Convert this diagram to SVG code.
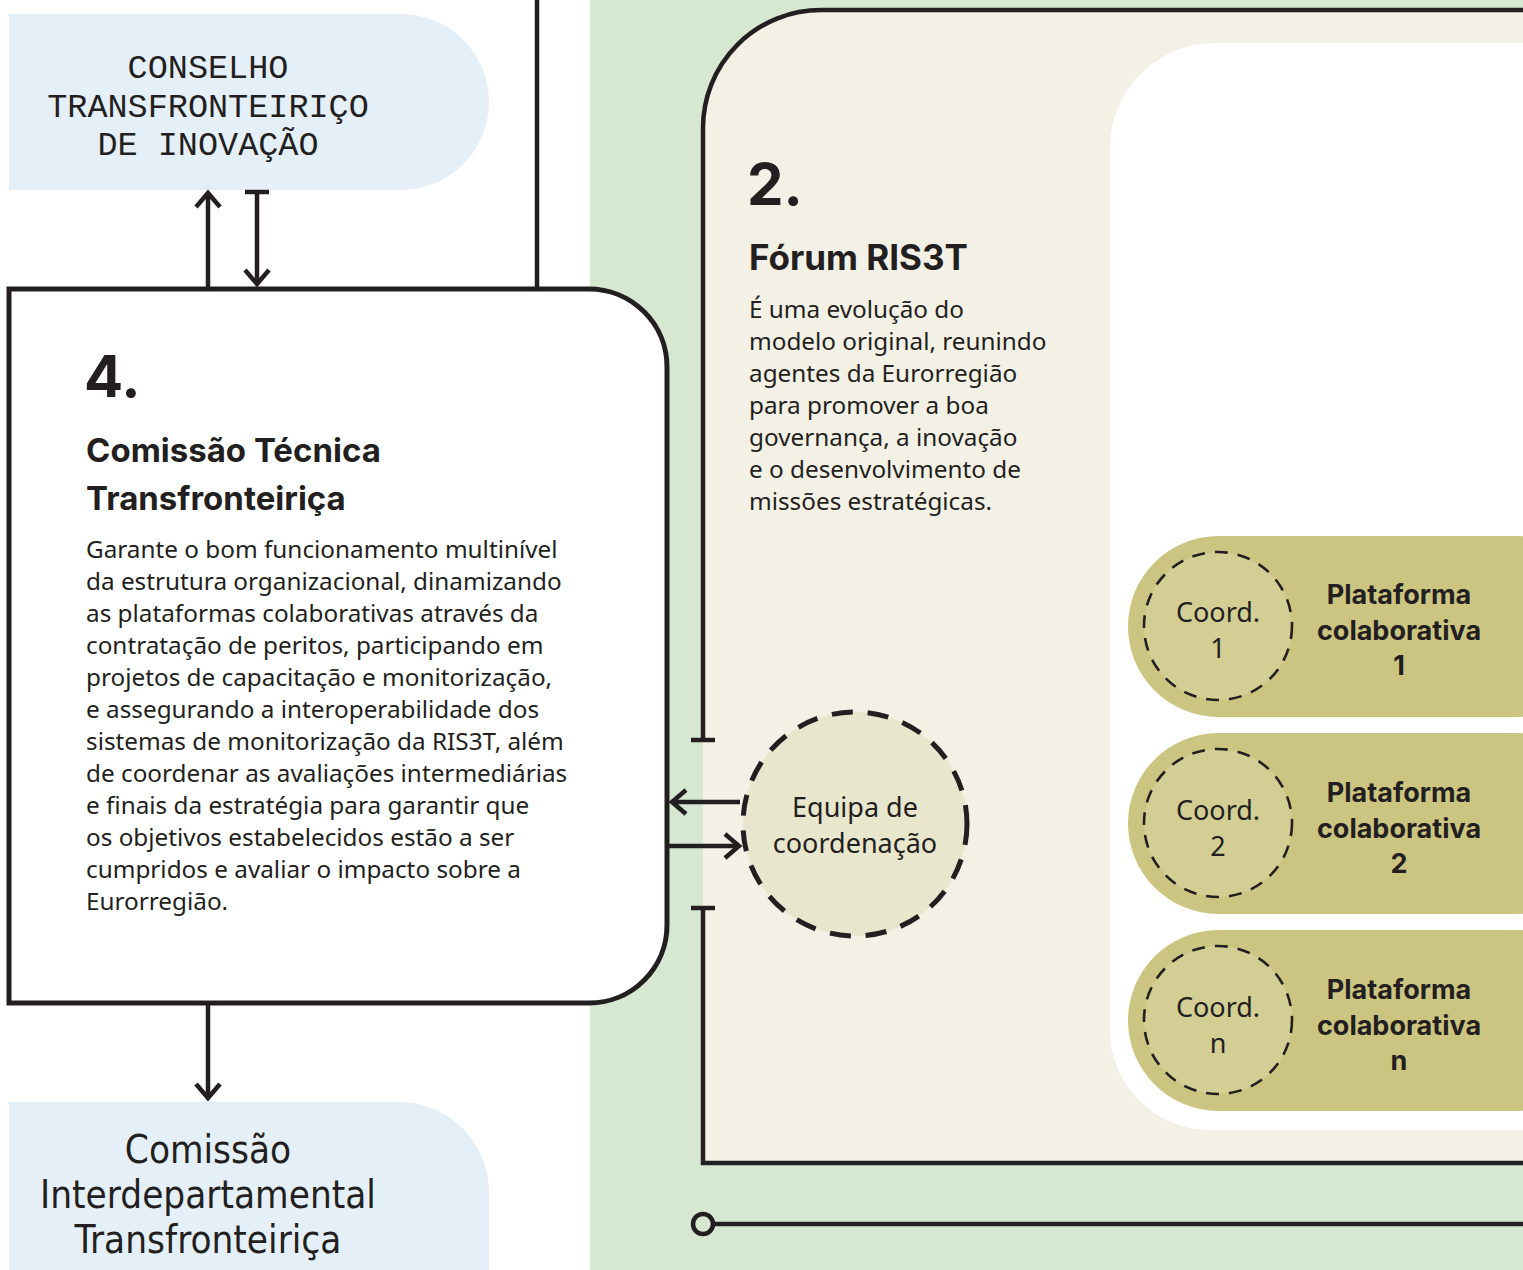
<svg xmlns="http://www.w3.org/2000/svg" width="1523" height="1270" viewBox="0 0 1523 1270">
<defs>
<style>
.ln{fill:none;stroke:#231f20;stroke-width:4.5}
.box{stroke:#231f20;stroke-width:5}
.mono{font-family:"Liberation Mono","DejaVu Sans Mono",monospace;font-size:33.5px;fill:#231f20;text-anchor:middle}
.sans{font-family:"Noto Sans","Open Sans",sans-serif;fill:#231f20}
.body{font-size:24.3px}
.head{font-family:Inter,"Noto Sans",sans-serif;font-weight:700;fill:#231f20}
.num{font-size:58px}
.ttl{font-size:33px}
.big{font-family:"DejaVu Sans",sans-serif;font-stretch:condensed;font-size:38.3px;fill:#231f20;text-anchor:middle}
.pill{fill:#ccc581}
.coord{fill:#d3ce94;stroke:#231f20;stroke-width:2.6;stroke-dasharray:13 10}
.ctext{font-family:"Noto Sans",sans-serif;font-size:27px;fill:#231f20;text-anchor:middle}
.ptext{font-family:Inter,"Noto Sans",sans-serif;font-weight:700;font-size:27px;fill:#231f20;text-anchor:middle}
</style>
<marker id="arr" viewBox="-20 -16 24 32" refX="0" refY="0" markerWidth="24" markerHeight="32" orient="auto" markerUnits="userSpaceOnUse">
<path d="M-14,-12 L0,0 L-14,12" fill="none" stroke="#231f20" stroke-width="4.5"/>
</marker>
<marker id="bar" viewBox="-4 -14 8 28" refX="0" refY="0" markerWidth="8" markerHeight="28" orient="auto" markerUnits="userSpaceOnUse">
<path d="M0,-12 L0,12" fill="none" stroke="#231f20" stroke-width="4.5"/>
</marker>
</defs>
<rect width="1523" height="1270" fill="#ffffff"/>
<rect x="590" y="0" width="933" height="1270" fill="#d7e8d2"/>

<g id="forum">
<path d="M703,128 A118,118 0 0 1 821,10 H1530 V1163 H703 Z" fill="#f3f1e5"/>
<path d="M1110,148 A105,105 0 0 1 1215,43 H1530 V1130 H1210 A100,100 0 0 1 1110,1030 Z" fill="#ffffff"/>
<path class="ln" d="M703,740 V128 A118,118 0 0 1 821,10 H1530" marker-start="url(#bar)"/>
<path class="ln" d="M703,908 V1163 H1530" marker-start="url(#bar)"/>
<text class="head num" x="747" y="205">2.</text>
<text class="head" font-size="35" x="749" y="270">Fórum RIS3T</text>
<text class="sans body" x="749">
<tspan x="749" y="318">É uma evolução do</tspan>
<tspan x="749" y="350">modelo original, reunindo</tspan>
<tspan x="749" y="382">agentes da Eurorregião</tspan>
<tspan x="749" y="414">para promover a boa</tspan>
<tspan x="749" y="446">governança, a inovação</tspan>
<tspan x="749" y="478">e o desenvolvimento de</tspan>
<tspan x="749" y="510">missões estratégicas.</tspan>
</text>
</g>

<g id="conselho">
<path d="M9,14 H401 A88,88 0 0 1 401,190 H9 Z" fill="#e5eff8"/>
<text class="mono" x="208" y="78">CONSELHO</text>
<text class="mono" x="208" y="117">TRANSFRONTEIRIÇO</text>
<text class="mono" x="208" y="155">DE INOVAÇÃO</text>
</g>

<g id="comissao-tecnica">
<path class="box" d="M9,289 H589 A78,78 0 0 1 667,367 V925 A78,78 0 0 1 589,1003 H9 Z" fill="#ffffff"/>
<text class="head num" x="84" y="397">4.</text>
<text class="head ttl" x="86" y="462">Comissão Técnica</text>
<text class="head ttl" x="86" y="510">Transfronteiriça</text>
<text class="sans body">
<tspan x="86" y="558">Garante o bom funcionamento multinível</tspan>
<tspan x="86" y="590">da estrutura organizacional, dinamizando</tspan>
<tspan x="86" y="622">as plataformas colaborativas através da</tspan>
<tspan x="86" y="654">contratação de peritos, participando em</tspan>
<tspan x="86" y="686">projetos de capacitação e monitorização,</tspan>
<tspan x="86" y="718">e assegurando a interoperabilidade dos</tspan>
<tspan x="86" y="750">sistemas de monitorização da RIS3T, além</tspan>
<tspan x="86" y="782">de coordenar as avaliações intermediárias</tspan>
<tspan x="86" y="814">e finais da estratégia para garantir que</tspan>
<tspan x="86" y="846">os objetivos estabelecidos estão a ser</tspan>
<tspan x="86" y="878">cumpridos e avaliar o impacto sobre a</tspan>
<tspan x="86" y="910">Eurorregião.</tspan>
</text>
</g>

<g id="comissao-interdepartamental">
<path d="M9,1102 H399 A90,90 0 0 1 489,1192 V1280 H9 Z" fill="#e5eff8"/>
<text class="big" x="208" y="1163">Comissão</text>
<text class="big" x="208" y="1208">Interdepartamental</text>
<text class="big" x="208" y="1253">Transfronteiriça</text>
</g>

<g id="equipa">
<circle cx="855" cy="824" r="112" fill="#e8e6cc" stroke="#231f20" stroke-width="5" stroke-dasharray="21 15"/>
<text class="ctext" x="855" y="817">Equipa de</text>
<text class="ctext" x="855" y="853">coordenação</text>
</g>

<g id="plataforma-1">
<rect x="1440" y="536" width="90" height="181" fill="#d3cc95"/>
<rect class="pill" x="1128" y="536" width="472" height="181" rx="90.5"/>
<circle class="coord" cx="1218" cy="626" r="74"/>
<text class="ctext" x="1218" y="622">Coord.</text>
<text class="ctext" x="1218" y="658">1</text>
<text class="ptext" x="1399" y="604">Plataforma</text>
<text class="ptext" x="1399" y="640">colaborativa</text>
<text class="ptext" x="1399" y="675">1</text>
</g>

<g id="plataforma-2">
<rect x="1440" y="733" width="90" height="181" fill="#d3cc95"/>
<rect class="pill" x="1128" y="733" width="472" height="181" rx="90.5"/>
<circle class="coord" cx="1218" cy="823" r="74"/>
<text class="ctext" x="1218" y="820">Coord.</text>
<text class="ctext" x="1218" y="856">2</text>
<text class="ptext" x="1399" y="802">Plataforma</text>
<text class="ptext" x="1399" y="838">colaborativa</text>
<text class="ptext" x="1399" y="873">2</text>
</g>

<g id="plataforma-n">
<rect x="1440" y="930" width="90" height="181" fill="#d3cc95"/>
<rect class="pill" x="1128" y="930" width="472" height="181" rx="90.5"/>
<circle class="coord" cx="1218" cy="1020" r="74"/>
<text class="ctext" x="1218" y="1017">Coord.</text>
<text class="ctext" x="1218" y="1053">n</text>
<text class="ptext" x="1399" y="999">Plataforma</text>
<text class="ptext" x="1399" y="1035">colaborativa</text>
<text class="ptext" x="1399" y="1070">n</text>
</g>

<g id="connectors">
<line class="ln" x1="537" y1="0" x2="537" y2="289"/>
<line class="ln" x1="208" y1="289" x2="208" y2="193" marker-end="url(#arr)"/>
<line class="ln" x1="257" y1="192" x2="257" y2="284" marker-start="url(#bar)" marker-end="url(#arr)"/>
<line class="ln" x1="208" y1="1003" x2="208" y2="1098" marker-end="url(#arr)"/>
<line class="ln" x1="740" y1="802" x2="672" y2="802" marker-end="url(#arr)"/>
<line class="ln" x1="667" y1="846" x2="739" y2="846" marker-end="url(#arr)"/>
<circle cx="703" cy="1224" r="10" fill="#d7e8d2" stroke="#231f20" stroke-width="4.5"/>
<line class="ln" x1="713" y1="1224" x2="1530" y2="1224"/>
</g>
</svg>
